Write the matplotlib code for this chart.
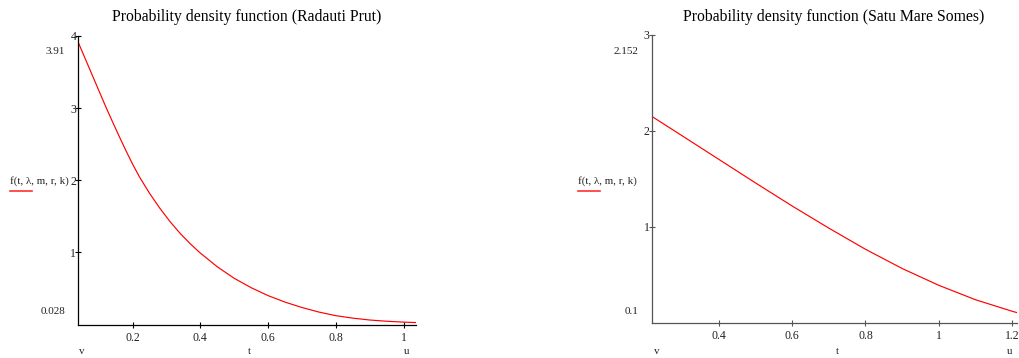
import matplotlib.pyplot as plt

plt.rcParams['font.family'] = ['Liberation Serif', 'DejaVu Serif']

# Radauti Prut
t_left = [0.04, 0.06, 0.08, 0.10, 0.12, 0.14, 0.16, 0.18, 0.20, 0.22, 0.25,
          0.28, 0.31, 0.34, 0.37, 0.40, 0.45, 0.50, 0.55, 0.60, 0.65, 0.70,
          0.75, 0.80, 0.85, 0.90, 0.95, 1.00, 1.036]
f_left = [3.91, 3.69, 3.47, 3.25, 3.03, 2.82, 2.615, 2.415, 2.225, 2.05, 1.82,
          1.615, 1.43, 1.265, 1.12, 0.99, 0.80, 0.64, 0.51, 0.40, 0.31, 0.235,
          0.172, 0.122, 0.088, 0.062, 0.045, 0.033, 0.027]

# Satu Mare Somes
t_right = [0.216, 0.30, 0.40, 0.50, 0.60, 0.70, 0.80, 0.90, 1.00, 1.10, 1.20, 1.214]
f_right = [2.15, 1.945, 1.70, 1.455, 1.215, 0.985, 0.765, 0.565, 0.39, 0.24, 0.12, 0.105]

W, H = 1019, 358
fig = plt.figure(figsize=(W / 100, H / 100), dpi=100)
TXT = '#222222'


def make_axes(x0, x1, y_top, y_bot, spine_col):
    ax = fig.add_axes([x0 / W, 1 - y_bot / H, (x1 - x0) / W, (y_bot - y_top) / H])
    for s in ['top', 'right']:
        ax.spines[s].set_visible(False)
    for s in ['left', 'bottom']:
        ax.spines[s].set_color(spine_col)
        ax.spines[s].set_linewidth(0.9)
    ax.tick_params(direction='inout', length=5, width=0.8, labelsize=8.5,
                   color=spine_col, labelcolor=TXT)
    ax.tick_params(axis='y', pad=-1)
    ax.tick_params(axis='x', pad=3)
    return ax


def add_labels(x_axis_px, top_lbl, bot_lbl, lab_x, v_x, t_x, u_x, uvt_y):
    fig.text((x_axis_px - 13) / W, 1 - 52 / H, top_lbl, ha='right', va='center',
             fontsize=8, color=TXT)
    fig.text((x_axis_px - 13) / W, 1 - 312 / H, bot_lbl, ha='right', va='center',
             fontsize=8, color=TXT)
    fig.text(lab_x / W, 1 - 181 / H, 'f(t, λ, m, r, k)', ha='left', va='center',
             fontsize=7.8, color=TXT)
    fig.add_artist(plt.Line2D([lab_x / W, (lab_x + 22) / W],
                              [1 - 191 / H, 1 - 191 / H], color='#ff3030', lw=1.2))
    for x, s in [(v_x, 'v'), (t_x, 't'), (u_x, 'u')]:
        fig.text(x / W, 1 - uvt_y / H, s, ha='center', va='center',
                 fontsize=8, color=TXT)


# left chart
ax1 = make_axes(78.3, 416, 36, 324.5, 'black')
ax1.plot(t_left, f_left, color='red', lw=0.85)
ax1.set_xlim(0.04, 1.036)
ax1.set_ylim(0, 4)
ax1.set_xticks([0.2, 0.4, 0.6, 0.8, 1.0])
ax1.set_xticklabels(['0.2', '0.4', '0.6', '0.8', '1'])
ax1.set_yticks([1, 2, 3, 4])
ax1.set_yticklabels(['1', '2', '3', '4'])
fig.text(247 / W, 1 - 17 / H, 'Probability density function (Radauti Prut)',
         ha='center', va='center', fontsize=11.3)
add_labels(78.3, '3.91', '0.028', 10, 82, 249, 407, 352)

# right chart
ax2 = make_axes(651.7, 1017, 34.7, 322.7, '#555555')
ax2.plot(t_right, f_right, color='red', lw=0.85)
ax2.set_xlim(0.216, 1.214)
ax2.set_ylim(0, 3)
ax2.set_xticks([0.4, 0.6, 0.8, 1.0, 1.2])
ax2.set_xticklabels(['0.4', '0.6', '0.8', '1', '1.2'])
ax2.set_yticks([1, 2, 3])
ax2.set_yticklabels(['1', '2', '3'])
fig.text(834 / W, 1 - 17 / H, 'Probability density function (Satu Mare Somes)',
         ha='center', va='center', fontsize=11.3)
add_labels(651.7, '2.152', '0.1', 578, 657, 837, 1010, 352)

fig.savefig('out.png', dpi=100)
